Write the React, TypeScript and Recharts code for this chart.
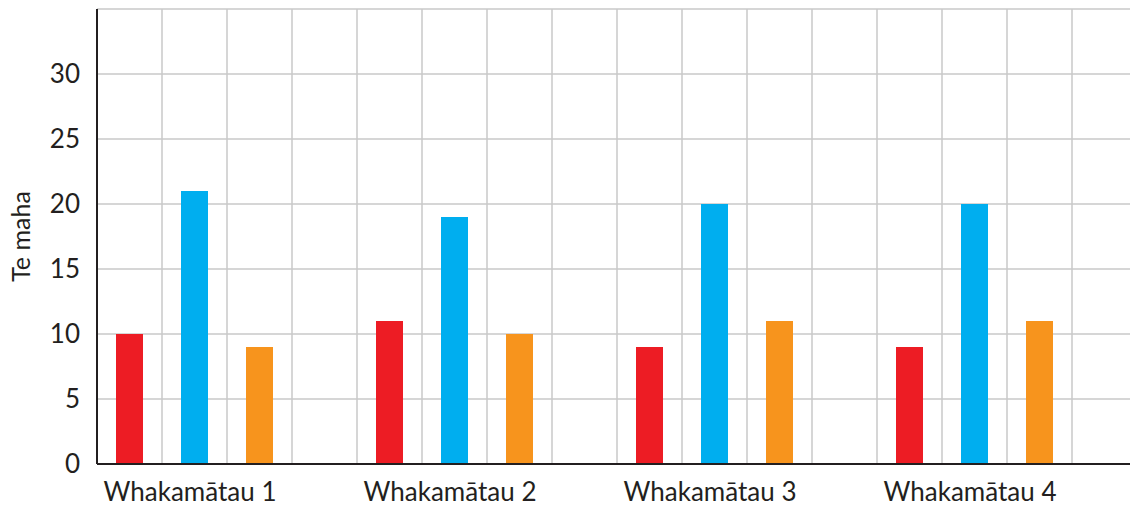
import { Bar, BarChart, CartesianGrid, XAxis, YAxis } from "recharts";

const categories = ["Whakamātau 1", "Whakamātau 2", "Whakamātau 3", "Whakamātau 4"];
const redValues = [10, 11, 9, 9];
const blueValues = [21, 19, 20, 20];
const orangeValues = [9, 10, 11, 11];
const yTicks = [0, 5, 10, 15, 20, 25, 30, 35];

const data = categories.map((name, i) => ({
  name,
  red: redValues[i],
  blue: blueValues[i],
  orange: orangeValues[i],
  empty: null,
}));

const FONT = "Lato, 'Noto Sans', sans-serif";
const TEXT = "#231f20";

function XTick({ x, y, payload }: any) {
  return (
    <text x={x - 37} y={y + 29} textAnchor="middle" fill={TEXT} fontSize={26} fontFamily={FONT}>
      {payload.value}
    </text>
  );
}

function YLabel({ viewBox }: any) {
  const cy = viewBox.y + viewBox.height / 2;
  return (
    <text x={30} y={cy} transform={`rotate(-90, 30, ${cy})`} textAnchor="middle" fill={TEXT} fontSize={25} fontFamily={FONT}>
      Te maha
    </text>
  );
}

export default function App() {
  return (
    <div style={{ position: "absolute", left: 0, top: 0, width: 1130, height: 506, overflow: "hidden", background: "#fff" }}>
      <BarChart width={1137} height={506} data={data} margin={{ top: 9, right: 0, bottom: 0, left: 0 }} barSize={27} barGap={38} barCategoryGap={0}>
        <CartesianGrid
          stroke="#c8c8c8"
          strokeWidth={1.5}
          verticalCoordinatesGenerator={({ offset }: any) =>
            Array.from({ length: categories.length * 4 + 1 }, (_, i) => offset.left + (i * offset.width) / (categories.length * 4))
          }
        />
        <XAxis dataKey="name" height={42} tick={<XTick />} tickLine={false} axisLine={{ stroke: TEXT, strokeWidth: 2 }} interval={0} />
        <YAxis
          width={97}
          domain={[0, 35]}
          ticks={yTicks}
          tickFormatter={(v: number) => (v === 35 ? "" : String(v))}
          tickLine={false}
          tickSize={0}
          tickMargin={17}
          axisLine={{ stroke: TEXT, strokeWidth: 2 }}
          tick={{ fill: TEXT, fontSize: 26, fontFamily: FONT }}
          label={{ content: <YLabel /> } as any}
        />
        <Bar dataKey="red" fill="#ed1c24" isAnimationActive={false} />
        <Bar dataKey="blue" fill="#00aeef" isAnimationActive={false} />
        <Bar dataKey="orange" fill="#f7941d" isAnimationActive={false} />
        <Bar dataKey="empty" fill="none" isAnimationActive={false} />
      </BarChart>
    </div>
  );
}
